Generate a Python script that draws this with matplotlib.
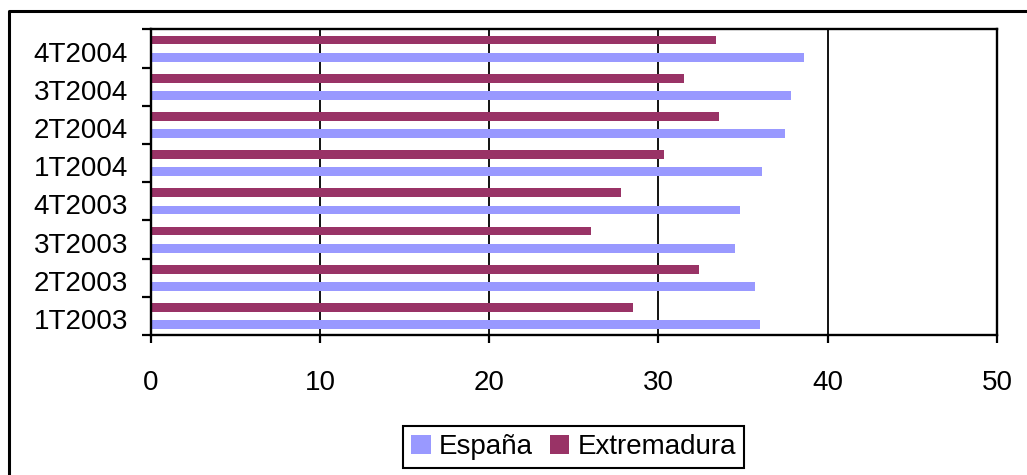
import matplotlib
matplotlib.use("Agg")
import matplotlib.pyplot as plt
import matplotlib.transforms as mtransforms
from matplotlib.lines import Line2D
import numpy as np

plt.rcParams['font.family'] = ['Liberation Sans', 'DejaVu Sans']

categories = ["1T2003", "2T2003", "3T2003", "4T2003", "1T2004", "2T2004", "3T2004", "4T2004"]
espana = [36.0, 35.7, 34.5, 34.8, 36.1, 37.5, 37.85, 38.6]
extremadura = [28.5, 32.4, 26.0, 27.8, 30.3, 33.55, 31.5, 33.4]
series_names = ["España", "Extremadura"]
colors = ["#9999FF", "#993366"]
xticks = [0, 10, 20, 30, 40, 50]

W, H = 1027, 475
FS = 20
fig = plt.figure(figsize=(W / 100, H / 100), dpi=100)
ax = fig.add_axes([150.7 / W, 1 - 335 / H, (997 - 150.7) / W, (335 - 29.5) / H])

y = np.arange(len(categories))
off = 0.225
h = 0.23
ax.barh(y - off, espana, height=h, color=colors[0], label=series_names[0], zorder=3)
ax.barh(y + off, extremadura, height=h, color=colors[1], label=series_names[1], zorder=3)

ax.set_xlim(0, 50)
ax.set_ylim(-0.5, len(categories) - 0.5)
ax.set_xticks(xticks)
ax.set_xticklabels([str(v) for v in xticks], fontsize=FS)
ax.set_yticks(y)
ax.set_yticklabels(categories, fontsize=FS)
ax.set_yticks(np.arange(len(categories) + 1) - 0.5, minor=True)

ax.tick_params(axis='y', which='major', length=0, pad=16.5)
ax.tick_params(axis='y', which='minor', length=6.5, width=1.6, direction='out')
ax.tick_params(axis='x', which='major', length=6, width=1.6, direction='out', pad=19)

off_t = mtransforms.ScaledTranslation(0, -3.0 / 100, fig.dpi_scale_trans)
for lab in ax.get_yticklabels():
    lab.set_transform(lab.get_transform() + off_t)

ax.grid(axis='x', color='black', linewidth=1.3, zorder=1)
ax.set_axisbelow(True)
for s in ax.spines.values():
    s.set_linewidth(1.7)
    s.set_color('black')
    s.set_zorder(5)

leg = ax.legend(loc='center', bbox_to_anchor=(573.5 / W, 1 - 447 / H),
                bbox_transform=fig.transFigure, ncol=2, fontsize=FS,
                handlelength=0.7, handleheight=0.7, handletextpad=0.3,
                columnspacing=0.6, borderpad=0.3, fancybox=False,
                framealpha=1, edgecolor='black')
leg.get_frame().set_linewidth(1.5)

# outer chart frame (top and left visible)
fx = 9 / W
fy = 1 - 11 / H
fig.add_artist(Line2D([fx, fx, 1.01], [-0.01, fy, fy], transform=fig.transFigure,
                      color='black', linewidth=2.2))

fig.savefig("out.png", dpi=100)
